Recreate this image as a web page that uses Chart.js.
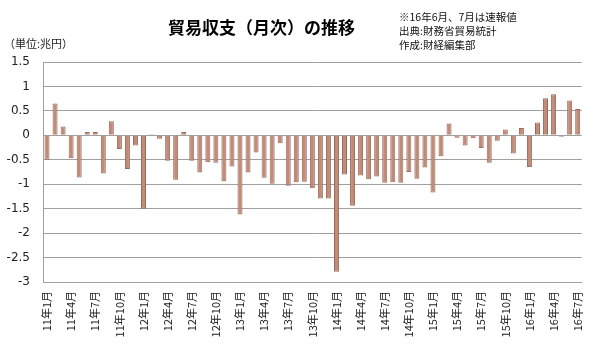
<!DOCTYPE html>
<html>
<head>
<meta charset="utf-8">
<script src="https://cdn.jsdelivr.net/npm/chart.js@4"></script>
<style>
  html, body { margin: 0; padding: 0; background: #ffffff; }
  #wrap { position: relative; width: 600px; height: 358px; overflow: hidden; font-family: "Noto Sans CJK JP", "Noto Sans", sans-serif; }
  #c { position: absolute; left: 0; top: 0; }
  .t { position: absolute; white-space: nowrap; color: #000; }
  #title { left: 168px; top: 17px; font-size: 17px; font-weight: bold; line-height: 20px; }
  #unit { left: 4px; top: 36px; font-size: 11px; line-height: 14px; color: #222; }
  #note { left: 399px; top: 10px; font-size: 10.5px; line-height: 14px; color: #111; }
</style>
</head>
<body>
<div id="wrap">
  <canvas id="c" width="600" height="358"></canvas>
  <div class="t" id="title">貿易収支（月次）の推移</div>
  <div class="t" id="unit">（単位:兆円）</div>
  <div class="t" id="note">※16年6月、7月は速報値<br>出典:財務省貿易統計<br>作成:財経編集部</div>
</div>
<script>
const years = ['11', '12', '13', '14', '15', '16'];
const months = [1,2,3,4,5,6,7,8,9,10,11,12];
const categories = [];
years.forEach(y => months.forEach(m => {
  if (!(y === '16' && m > 7)) categories.push(y + '年' + m + '月');
}));

const balance2011 = [-0.50, 0.65, 0.18, -0.47, -0.86, 0.07, 0.07, -0.78, 0.29, -0.28, -0.69, -0.21];
const balance2012 = [-1.50, 0.02, -0.07, -0.52, -0.91, 0.07, -0.52, -0.76, -0.55, -0.56, -0.94, -0.64];
const balance2013 = [-1.62, -0.76, -0.35, -0.87, -0.99, -0.16, -1.03, -0.96, -0.95, -1.08, -1.29, -1.29];
const balance2014 = [-2.79, -0.80, -1.44, -0.82, -0.90, -0.84, -0.97, -0.96, -0.97, -0.75, -0.89, -0.66];
const balance2015 = [-1.17, -0.43, 0.24, -0.05, -0.21, -0.06, -0.26, -0.56, -0.11, 0.12, -0.37, 0.15];
const balance2016 = [-0.65, 0.26, 0.76, 0.84, -0.03, 0.71, 0.54];
const values = [].concat(balance2011, balance2012, balance2013, balance2014, balance2015, balance2016);

const yTicks = [1.5, 1, 0.5, 0, -0.5, -1, -1.5, -2, -2.5, -3];

new Chart(document.getElementById('c'), {
  type: 'bar',
  data: {
    labels: categories,
    datasets: [{
      data: values,
      backgroundColor: '#c08c7a',
      borderColor: '#9c6a59',
      borderWidth: 1,
      barPercentage: 0.62,
      categoryPercentage: 1.0
    }]
  },
  options: {
    responsive: false,
    animation: false,
    devicePixelRatio: 1,
    layout: { padding: { top: 62, right: 15, left: 0, bottom: 0 } },
    plugins: { legend: { display: false }, tooltip: { enabled: false }, title: { display: false } },
    scales: {
      x: {
        grid: { display: false, drawTicks: false },
        border: { display: true, color: '#a0a0a0', width: 1 },
        ticks: {
          autoSkip: false,
          maxRotation: 90,
          minRotation: 90,
          padding: 9,
          color: '#222',
          font: { family: '"Noto Sans CJK JP", sans-serif', size: 11 },
          callback: function (v, i) { return (i % 3 === 0) ? categories[i] : ''; }
        },
        afterFit: function (s) { s.height = 76; }
      },
      y: {
        min: -3,
        max: 1.5,
        afterBuildTicks: function (s) { s.ticks = yTicks.slice().reverse().map(v => ({ value: v })); },
        grid: { color: '#a0a0a0', lineWidth: 1, drawTicks: false },
        border: { display: true, color: '#a0a0a0', width: 1 },
        ticks: {
          padding: 13,
          color: '#222',
          font: { family: '"DejaVu Sans", sans-serif', size: 12 },
          callback: function (v) { return String(v); }
        },
        afterFit: function (s) { s.width = 43; }
      }
    }
  }
});
</script>
</body>
</html>
